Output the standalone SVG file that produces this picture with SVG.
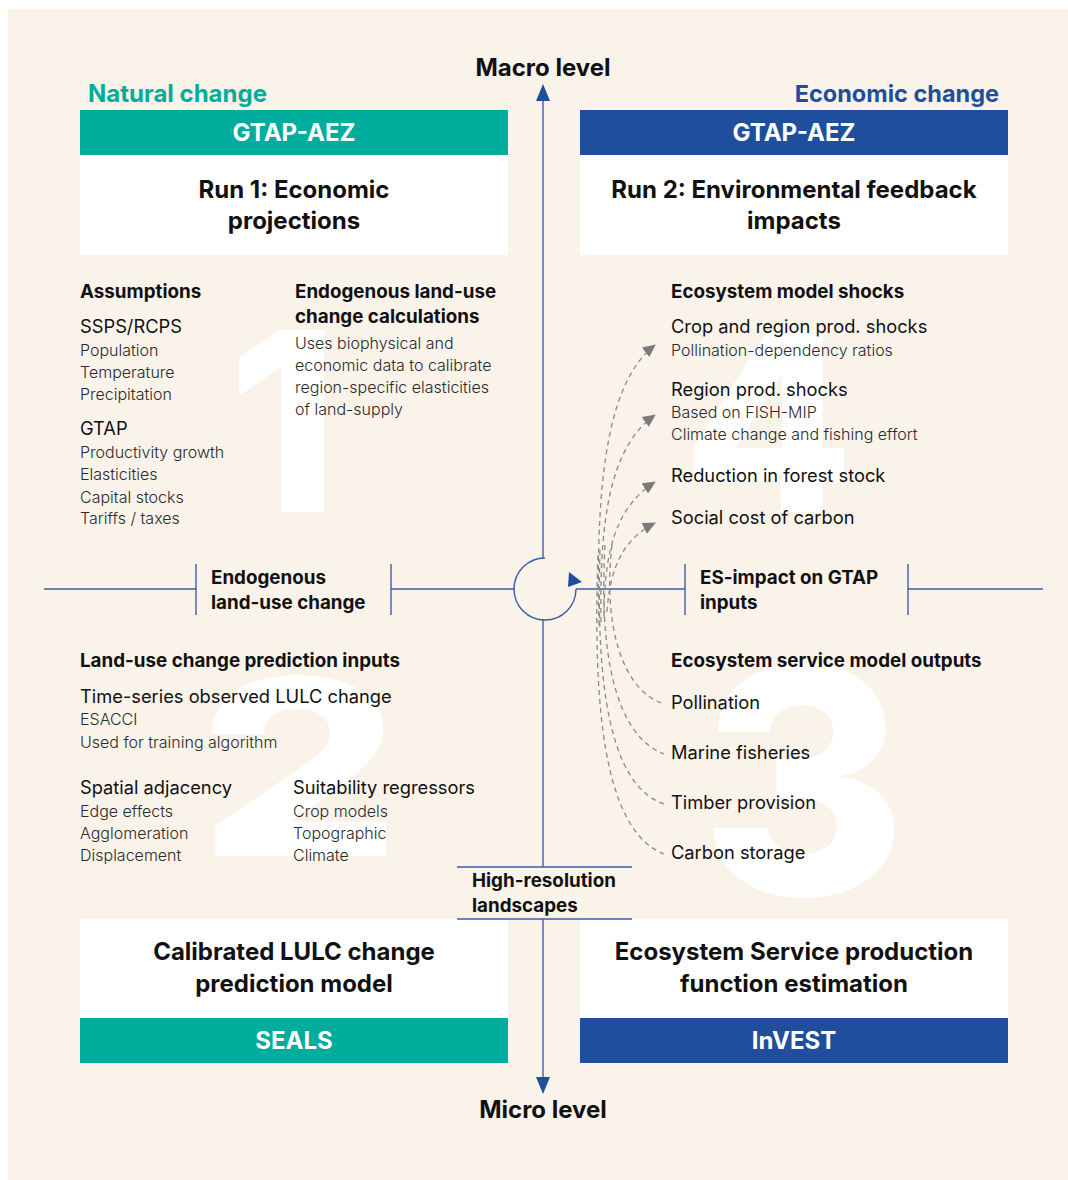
<svg xmlns="http://www.w3.org/2000/svg" width="1068" height="1180" viewBox="0 0 1068 1180">
<defs>
<style>
text{font-family:Inter,"Liberation Sans",Arial,sans-serif;fill:#111}
.b{font-weight:700;font-size:18.8px}
.m{font-size:18.3px;font-weight:400}
.s{font-size:16px;font-weight:300;fill:#2a2a2a}
.hd{font-weight:700;font-size:24px;fill:#fff;text-anchor:middle}
.tt{font-weight:700;font-size:24px;text-anchor:middle}
.num{font-weight:800;fill:#fff}
.ax{stroke:#3a5da6;stroke-width:1.4;fill:none}
.dash{stroke:#8a8a8a;stroke-width:1.3;fill:none;stroke-dasharray:5 4}
.lbl{stroke:#3a5da6;stroke-width:1.4}
</style>
<marker id="ga" markerWidth="14" markerHeight="12" refX="12" refY="6" orient="auto" markerUnits="userSpaceOnUse">
<path d="M0,0 L13,6 L0,12 Z" fill="#7a7a7a"/>
</marker>
</defs>
<rect x="0" y="0" width="1068" height="1180" fill="#fff"/>
<rect x="8" y="9" width="1060" height="1171" fill="#faf3ea"/>
<g id="numerals">
<text class="num" x="228" y="512" font-size="250">1</text>
<text class="num" x="682" y="512" font-size="250">4</text>
<text class="num" transform="translate(198 856) scale(1.3 1)" x="0" y="0" font-size="245">2</text>
<text class="num" x="700" y="895" font-size="315">3</text>
</g>
<g id="connectors">
<path class="ax" d="M543 558 L543 100"/>
<path d="M536 101 L543 84 L550 101 Z" fill="#1f4e9d"/>
<path class="ax" d="M543 620 L543 867"/>
<path class="ax" d="M543 919 L543 1078"/>
<path d="M536 1077 L543 1094 L550 1077 Z" fill="#1f4e9d"/>
<path class="ax" d="M44 589 L196 589 M391 589 L514 589 M576 589 L685 589 M908 589 L1043 589"/>
<path class="ax" d="M545 558 A31 31 0 1 0 576 589" stroke="#2b55a5" stroke-width="1.6"/>
<path d="M569 572 L582 582 L568 587 Z" fill="#1f4e9d"/>
<path class="dash" d="M599 625 C595 470 610 380 655 345" marker-end="url(#ga)"/>
<path class="dash" d="M601 622 C599 510 613 445 655 415" marker-end="url(#ga)"/>
<path class="dash" d="M604 617 C604 545 619 505 655 482" marker-end="url(#ga)"/>
<path class="dash" d="M607 612 C610 565 625 538 655 523" marker-end="url(#ga)"/>
<path class="dash" d="M612 545 C603 620 620 690 664 704"/>
<path class="dash" d="M605 545 C599 650 614 735 664 754"/>
<path class="dash" d="M600 550 C596 680 608 785 664 804"/>
<path class="dash" d="M598 555 C593 700 602 830 664 854"/>
</g>
<g id="macro-label"><text x="543" y="76" class="tt" font-size="22">Macro level</text></g>
<g id="micro-label"><text x="543" y="1118" class="tt" font-size="22">Micro level</text></g>
<g id="natural-change"><text x="88" y="102" font-size="24" font-weight="700" style="fill:#00ad9c">Natural change</text></g>
<g id="economic-change"><text x="999" y="102" font-size="23.5" font-weight="700" text-anchor="end" style="fill:#1f4e9d">Economic change</text></g>
<g id="run1">
<rect x="80" y="110" width="428" height="45" fill="#00ad9c"/>
<rect x="80" y="155" width="428" height="100" fill="#fff"/>
<text x="294" y="141" class="hd">GTAP-AEZ</text>
<text x="294" y="198" class="tt">Run 1: Economic</text>
<text x="294" y="229" class="tt">projections</text>
</g>
<g id="run2">
<rect x="580" y="110" width="428" height="45" fill="#1f4e9d"/>
<rect x="580" y="155" width="428" height="100" fill="#fff"/>
<text x="794" y="141" class="hd">GTAP-AEZ</text>
<text x="794" y="198" class="tt">Run 2: Environmental feedback</text>
<text x="794" y="229" class="tt">impacts</text>
</g>
<g id="seals">
<rect x="80" y="919" width="428" height="99" fill="#fff"/>
<rect x="80" y="1018" width="428" height="45" fill="#00ad9c"/>
<text x="294" y="960" class="tt">Calibrated LULC change</text>
<text x="294" y="992" class="tt">prediction model</text>
<text x="294" y="1049" class="hd">SEALS</text>
</g>
<g id="invest">
<rect x="580" y="919" width="428" height="99" fill="#fff"/>
<rect x="580" y="1018" width="428" height="45" fill="#1f4e9d"/>
<text x="794" y="960" class="tt">Ecosystem Service production</text>
<text x="794" y="992" class="tt">function estimation</text>
<text x="794" y="1049" class="hd">InVEST</text>
</g>
<g id="assumptions">
<text x="80" y="298" class="b">Assumptions</text>
<text x="80" y="333" class="m">SSPS/RCPS</text>
<text x="80" y="356" class="s">Population</text>
<text x="80" y="378" class="s">Temperature</text>
<text x="80" y="400" class="s">Precipitation</text>
<text x="80" y="435" class="m">GTAP</text>
<text x="80" y="458" class="s">Productivity growth</text>
<text x="80" y="480" class="s">Elasticities</text>
<text x="80" y="503" class="s">Capital stocks</text>
<text x="80" y="524" class="s">Tariffs / taxes</text>
</g>
<g id="endogenous-calc">
<text x="295" y="298" class="b">Endogenous land-use</text>
<text x="295" y="323" class="b">change calculations</text>
<text x="295" y="349" class="s">Uses biophysical and</text>
<text x="295" y="371" class="s">economic data to calibrate</text>
<text x="295" y="393" class="s">region-specific elasticities</text>
<text x="295" y="415" class="s">of land-supply</text>
</g>
<g id="ecosystem-shocks">
<text x="671" y="298" class="b">Ecosystem model shocks</text>
<text x="671" y="333" class="m">Crop and region prod. shocks</text>
<text x="671" y="356" class="s">Pollination-dependency ratios</text>
<text x="671" y="396" class="m">Region prod. shocks</text>
<text x="671" y="418" class="s">Based on FISH-MIP</text>
<text x="671" y="440" class="s">Climate change and fishing effort</text>
<text x="671" y="482" class="m">Reduction in forest stock</text>
<text x="671" y="524" class="m">Social cost of carbon</text>
</g>
<g id="endogenous-luc">
<line class="lbl" x1="196" y1="564" x2="196" y2="615"/>
<line class="lbl" x1="391" y1="564" x2="391" y2="615"/>
<text x="211" y="584" class="b">Endogenous</text>
<text x="211" y="609" class="b">land-use change</text>
</g>
<g id="es-impact">
<line class="lbl" x1="685" y1="564" x2="685" y2="615"/>
<line class="lbl" x1="908" y1="564" x2="908" y2="615"/>
<text x="700" y="584" class="b">ES-impact on GTAP</text>
<text x="700" y="609" class="b">inputs</text>
</g>
<g id="high-res">
<line class="lbl" x1="457" y1="867" x2="632" y2="867"/>
<line class="lbl" x1="457" y1="919" x2="632" y2="919"/>
<text x="472" y="887" class="b">High-resolution</text>
<text x="472" y="912" class="b">landscapes</text>
</g>
<g id="luc-inputs">
<text x="80" y="667" class="b">Land-use change prediction inputs</text>
<text x="80" y="703" class="m">Time-series observed LULC change</text>
<text x="80" y="725" class="s">ESACCI</text>
<text x="80" y="748" class="s">Used for training algorithm</text>
<text x="80" y="794" class="m">Spatial adjacency</text>
<text x="80" y="817" class="s">Edge effects</text>
<text x="80" y="839" class="s">Agglomeration</text>
<text x="80" y="861" class="s">Displacement</text>
<text x="293" y="794" class="m">Suitability regressors</text>
<text x="293" y="817" class="s">Crop models</text>
<text x="293" y="839" class="s">Topographic</text>
<text x="293" y="861" class="s">Climate</text>
</g>
<g id="es-outputs">
<text x="671" y="667" class="b">Ecosystem service model outputs</text>
<text x="671" y="709" class="m">Pollination</text>
<text x="671" y="759" class="m">Marine fisheries</text>
<text x="671" y="809" class="m">Timber provision</text>
<text x="671" y="859" class="m">Carbon storage</text>
</g>
</svg>
